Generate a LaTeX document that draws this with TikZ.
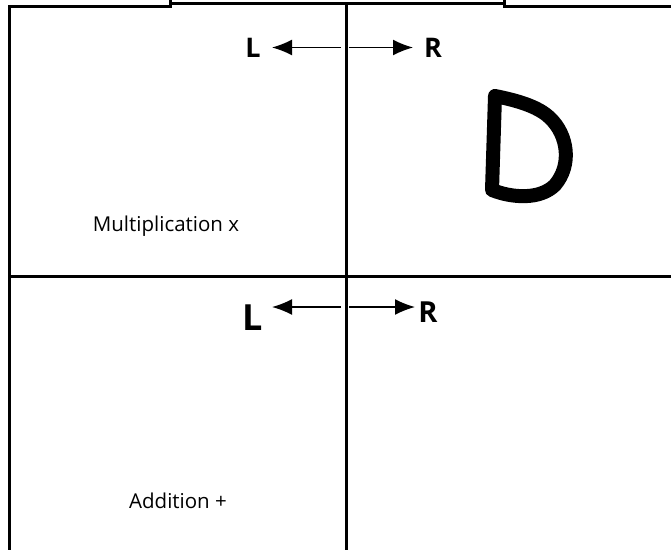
\documentclass[tikz,border=0pt]{standalone}
\usepackage{fontspec}
\setmainfont{Open Sans}
\usetikzlibrary{arrows.meta}
\tikzset{
  grid line/.style={line width=3pt, line cap=rect},
  lr arrow/.style={line width=1.6pt, -{Latex[length=20pt,width=16pt]}},
  lrletter/.style={inner sep=0pt, font=\fontsize{27}{30}\selectfont},
  label text/.style={inner sep=0pt, anchor=base, font=\fontsize{20.5}{24}\selectfont},
}
\begin{document}
\begin{tikzpicture}[x=1pt,y=-1pt]
\useasboundingbox (0,0) rectangle (671,549);
% top box
\draw[line width=3pt] (170,-10) -- (170,3.5) -- (504,3.5) -- (504,-10);
% outer frame
\coordinate (tl) at (9,6.5);
\coordinate (bl) at (9,560);
\coordinate (boxl) at (170,6.5);
\coordinate (boxr) at (504,6.5);
\coordinate (tr) at (680,6.5);
\coordinate (mt) at (346,3.5);
\coordinate (mb) at (346,560);
\coordinate (hl) at (9,276);
\coordinate (hr) at (680,276);
\draw[grid line] (bl) -- (tl) -- (boxl);
\draw[grid line] (boxr) -- (tr);
\draw[grid line] (mt) -- (mb);
\draw[grid line] (hl) -- (hr);
% upper arrows
\coordinate (c1l) at (341,47.5);
\coordinate (c1r) at (349,47.5);
\node[lrletter] (L1) at (253,48) {\bfseries L};
\node[lrletter] (R1) at (433,48) {\bfseries R};
\coordinate (t1l) at (272,47.5);
\coordinate (t1r) at (413,47.5);
\draw[lr arrow] (c1l) -- (t1l);
\draw[lr arrow] (c1r) -- (t1r);
% lower arrows
\coordinate (c2l) at (341,307);
\coordinate (c2r) at (349,307);
\node[lrletter, font=\fontsize{36}{40}\selectfont] (L2) at (253,318) {\bfseries L};
\node[lrletter, font=\fontsize{29}{32}\selectfont] (R2) at (428,312) {\bfseries R};
\coordinate (t2l) at (272,307);
\coordinate (t2r) at (415,307);
\draw[lr arrow] (c2l) -- (t2l);
\draw[lr arrow] (c2r) -- (t2r);
% big D
\draw[line width=14pt, line join=round, line cap=round]
  (495,96) -- (492,190)
  .. controls (512,198) and (540,200) .. (555,185)
  .. controls (572,165) and (568,135) .. (550,118)
  .. controls (538,106) and (515,100) .. (495,96) -- cycle;
% labels
\node[label text] (mult) at (166,231) {Multiplication x};
\node[label text] (add) at (178,508) {Addition +};
\end{tikzpicture}
\end{document}
